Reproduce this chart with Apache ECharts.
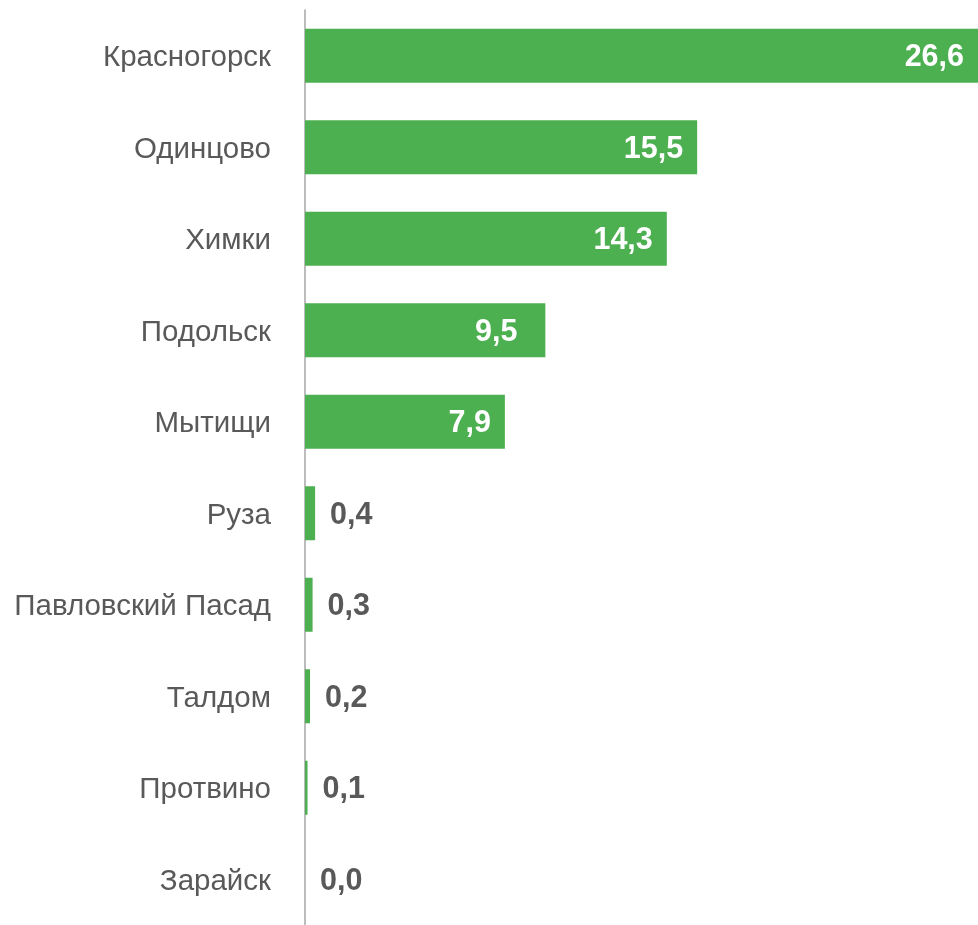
<!DOCTYPE html>
<html>
<head>
<meta charset="utf-8">
<script src="https://cdn.jsdelivr.net/npm/echarts@6/dist/echarts.min.js"></script>
<style>
html,body{margin:0;padding:0;background:#fff;}
#chart{width:978px;height:925px;}
</style>
</head>
<body>
<div id="chart"></div>
<script>
const categories = ['Красногорск','Одинцово','Химки','Подольск','Мытищи','Руза','Павловский Пасад','Талдом','Протвино','Зарайск'];
const values = [26.6, 15.5, 14.3, 9.5, 7.9, 0.4, 0.3, 0.2, 0.1, 0.0];
const insideThreshold = 5;

const fmt = v => v.toFixed(1).replace('.', ',');

const seriesData = values.map((v, i) => {
  const inside = v >= insideThreshold;
  return {
    value: v,
    label: inside ? {
      position: 'insideRight',
      distance: categories[i] === 'Подольск' ? 28 : 14,
      color: '#ffffff'
    } : {
      position: 'right',
      distance: 15,
      color: '#595959'
    }
  };
});

const chart = echarts.init(document.getElementById('chart'));
chart.setOption({
  animation: false,
  grid: {left: 305, top: 10, width: 678, height: 920, containLabel: false},
  xAxis: {
    type: 'value', min: 0, max: 26.6, show: false,
    splitLine: {show: false}
  },
  yAxis: {
    type: 'category', data: categories, inverse: true,
    axisLine: {show: true, lineStyle: {color: '#A6A6A6', width: 1.5}},
    axisTick: {show: false},
    axisLabel: {
      margin: 34,
      formatter: v => '{c|' + v + '}',
      rich: {
        c: {
          fontSize: 29.5, color: '#595959',
          padding: [5, 0, 0, 0],
          fontFamily: '"Liberation Sans", Arial, sans-serif'
        }
      }
    }
  },
  series: [{
    type: 'bar',
    data: seriesData,
    barWidth: 54,
    itemStyle: {color: '#4CAF50'},
    label: {
      show: true,
      fontSize: 30.5,
      fontWeight: 'bold',
      offset: [0, 2],
      fontFamily: '"Liberation Sans", Arial, sans-serif',
      formatter: p => fmt(p.value)
    }
  }]
});
</script>
</body>
</html>
